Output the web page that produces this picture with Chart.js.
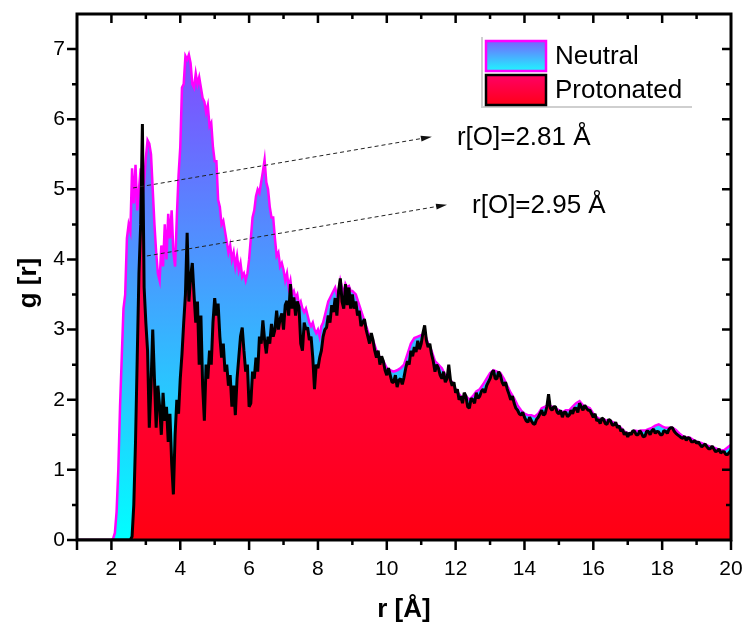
<!DOCTYPE html>
<html>
<head>
<meta charset="utf-8">
<title>g(r)</title>
<script src="https://cdn.jsdelivr.net/npm/chart.js@4.4.0/dist/chart.umd.min.js"></script>
<style>
  html, body { margin: 0; padding: 0; background: #fff; }
  #wrap { width: 743px; height: 625px; }
</style>
</head>
<body>
<div id="wrap"><canvas id="rdfChart" width="743" height="625"></canvas></div>
<script>
// r grid: fine step close in, coarser step further out for the neutral curve
const NEAR_START = 2.0, NEAR_STEP = 0.05;       // 2.00 .. 8.95
const FAR_START = 9.0;
const FAR_STEP_NEUTRAL = 0.1;                   // 9.0 .. 20.0
const FAR_STEP_PROTON = 0.05;                   // 9.00 .. 20.00

const gNeutralNear = [
    0, 0.02, 0.1, 0.4, 1.0, 1.9, 2.6, 3.3, 3.5, 4.3,
    4.5, 4.4, 5.3, 4.8, 5.35, 4.7, 5.0, 5.3, 4.9, 5.1,
    5.45, 5.7, 5.65, 5.5, 5.0, 4.5, 4.1, 3.8, 3.7, 4.2,
    3.9, 4.5, 4.0, 4.65, 4.3, 4.7, 4.1, 3.9, 4.6, 5.2,
    5.6, 6.45, 6.5, 6.9, 6.85, 6.92, 6.8, 6.5, 6.45, 6.65,
    6.5, 6.6, 6.45, 6.3, 6.25, 6.1, 6.2, 5.9, 5.95, 5.6,
    5.4, 5.4, 4.85, 4.75, 4.5, 4.55, 4.4, 4.25, 4.1, 4.2,
    4.0, 4.1, 3.9, 4.05, 3.85, 3.95, 3.75, 3.8, 3.7, 3.8,
    4.0, 4.3, 4.6, 4.7, 4.9, 5.0, 4.95, 5.1, 5.25, 5.42,
    5.1, 5.0, 4.75, 4.6, 4.6, 4.3, 4.05, 4.1, 3.9, 3.95,
    3.85, 3.7, 3.8, 3.6, 3.7, 3.5, 3.55, 3.45, 3.5, 3.35,
    3.4, 3.3, 3.25, 3.3, 3.2, 3.1, 3.05, 3.1, 3.0, 2.95,
    3.0, 2.9, 3.05, 3.1, 3.2, 3.3, 3.4, 3.45, 3.5, 3.55,
    3.6, 3.5, 3.55, 3.7, 3.6, 3.5, 3.65, 3.6, 3.62, 3.55
];

const gProtonNear = [
    0, 0, 0, 0, 0, 0, 0, 0, 0, 0,
    0, 0, 0.05, 0.5, 1.4, 2.6, 3.8, 4.5, 5.93, 3.6,
    3.1, 2.7, 1.6, 2.2, 3.0, 2.3, 1.6, 2.2, 1.9, 1.5,
    2.1, 1.7, 1.9, 1.4, 1.8, 1.1, 0.65, 1.5, 2.0, 1.8,
    2.3, 2.65, 3.1, 3.5, 4.38, 3.4, 3.75, 3.95, 3.5, 3.1,
    3.4, 2.5, 3.2, 2.2, 1.7, 2.5, 2.3, 2.7, 2.5, 3.1,
    3.45, 3.2, 3.37, 2.9, 2.6, 2.8, 2.4, 2.5, 2.2, 2.35,
    1.9, 2.2, 1.78, 2.3, 2.6, 2.9, 3.03, 2.7, 2.4, 2.5,
    1.9, 1.95, 2.4, 2.3, 2.6, 2.4, 2.9, 2.8, 3.13, 2.85,
    2.66, 2.9, 2.8, 3.08, 2.9, 3.0, 3.27, 3.0, 3.15, 3.23,
    3.0, 3.35, 3.41, 3.2, 3.65, 3.3, 3.46, 3.2, 3.4, 3.32,
    2.8, 2.7, 3.1, 3.0, 3.03, 2.85, 2.9, 2.6, 2.15, 2.5,
    2.45, 2.6, 2.7, 2.9, 3.0, 3.03, 3.2, 3.1, 3.35, 3.25,
    3.45, 3.2, 3.55, 3.73, 3.4, 3.3, 3.65, 3.35, 3.6, 3.3
];

const gNeutralFar = [
    3.55, 3.5, 3.35, 3.2, 3.05, 2.9, 2.85, 2.7, 2.6, 2.55,
    2.45, 2.42, 2.4, 2.42, 2.45, 2.5, 2.65, 2.8, 2.88, 2.9,
    2.92, 2.95, 2.8, 2.7, 2.55, 2.5, 2.45, 2.35, 2.3, 2.25,
    2.15, 2.08, 2.02, 2.05, 2.0, 2.05, 2.12, 2.15, 2.22, 2.3,
    2.38, 2.42, 2.4, 2.38, 2.3, 2.2, 2.1, 2.02, 1.92, 1.85,
    1.8, 1.78, 1.78, 1.76, 1.8, 1.88, 1.9, 1.92, 1.9, 1.88,
    1.85, 1.82, 1.85, 1.85, 1.9, 1.95, 1.98, 1.92, 1.9, 1.88,
    1.8, 1.75, 1.72, 1.72, 1.7, 1.7, 1.67, 1.64, 1.6, 1.55,
    1.52, 1.53, 1.56, 1.55, 1.56, 1.56, 1.58, 1.6, 1.63, 1.65,
    1.62, 1.6, 1.6, 1.6, 1.57, 1.52, 1.48, 1.46, 1.46, 1.43,
    1.4, 1.39, 1.37, 1.35, 1.33, 1.32, 1.3, 1.28, 1.28, 1.32,
    1.36
];

const gProtonFar = [
    3.5, 3.3, 3.4, 3.2, 3.27, 3.05, 3.1, 3.15, 3.0, 2.9, 2.8, 2.95, 2.85, 2.7, 2.6, 2.7, 2.5, 2.62, 2.55, 2.42,
    2.35, 2.45, 2.35, 2.25, 2.25, 2.35, 2.18, 2.28, 2.3, 2.22, 2.32, 2.45, 2.55, 2.5, 2.7, 2.62, 2.75, 2.68, 2.84, 2.72,
    2.8, 2.95, 3.06, 2.85, 2.75, 2.8, 2.65, 2.55, 2.4, 2.5, 2.45, 2.35, 2.3, 2.4, 2.25, 2.3, 2.5, 2.28, 2.2, 2.25,
    2.1, 2.15, 2.0, 2.05, 1.95, 2.1, 2.05, 1.9, 1.88, 2.02, 2.0, 1.95, 2.1, 2.02, 2.05, 2.12, 2.15, 2.1, 2.2, 2.25,
    2.3, 2.38, 2.42, 2.3, 2.3, 2.4, 2.35, 2.25, 2.2, 2.25, 2.15, 2.08, 2.0, 2.05, 1.95, 1.88, 1.85, 1.8, 1.78, 1.82,
    1.75, 1.7, 1.68, 1.75, 1.7, 1.66, 1.65, 1.72, 1.75, 1.8, 1.85, 1.78, 1.8, 1.9, 2.08, 1.88, 1.85, 1.9, 1.9, 1.82,
    1.8, 1.85, 1.75, 1.82, 1.82, 1.76, 1.78, 1.85, 1.8, 1.88, 1.88, 1.82, 1.95, 1.9, 1.85, 1.92, 1.88, 1.85, 1.85, 1.8,
    1.75, 1.8, 1.7, 1.72, 1.66, 1.74, 1.72, 1.66, 1.65, 1.72, 1.7, 1.64, 1.64, 1.68, 1.6, 1.63, 1.55, 1.58, 1.5, 1.54,
    1.47, 1.53, 1.5, 1.56, 1.55, 1.5, 1.5, 1.56, 1.52, 1.47, 1.48, 1.55, 1.55, 1.5, 1.56, 1.58, 1.52, 1.55, 1.54, 1.5,
    1.5, 1.56, 1.55, 1.52, 1.58, 1.6, 1.6, 1.55, 1.52, 1.5, 1.48, 1.46, 1.45, 1.48, 1.42, 1.46, 1.45, 1.4, 1.4, 1.42,
    1.38, 1.4, 1.36, 1.33, 1.35, 1.37, 1.33, 1.3, 1.3, 1.34, 1.3, 1.26, 1.27, 1.3, 1.24, 1.26, 1.26, 1.22, 1.22, 1.25,
    1.28
];

const xTickValues = [2, 4, 6, 8, 10, 12, 14, 16, 18, 20];
const yTickValues = [0, 1, 2, 3, 4, 5, 6, 7];
const seriesNames = ["Neutral", "Protonated"];

// arrows: [r0, g0, r1, g1] and their labels
const arrowLines = [[2.63, 5.02, 11.31, 5.75], [3.03, 4.05, 11.75, 4.78]];
const arrowLabels = ["r[O]=2.81 Å", "r[O]=2.95 Å"];

const FONT = "'Liberation Sans', Arial, sans-serif";
const X_MIN = 1, X_MAX = 20, Y_MAX = 7.5;

function toPoints(start, step, values) {
    return values.map((g, i) => ({ x: +(start + i * step).toFixed(2), y: g }));
}

const neutralPoints = [{ x: X_MIN, y: 0 }]
    .concat(toPoints(NEAR_START, NEAR_STEP, gNeutralNear), toPoints(FAR_START, FAR_STEP_NEUTRAL, gNeutralFar));
const protonPoints = [{ x: X_MIN, y: 0 }]
    .concat(toPoints(NEAR_START, NEAR_STEP, gProtonNear), toPoints(FAR_START, FAR_STEP_PROTON, gProtonFar));

function areaGradient(chart, bottom, top) {
    const y = chart.scales.y;
    const grad = chart.ctx.createLinearGradient(0, y.getPixelForValue(0), 0, y.getPixelForValue(Y_MAX));
    grad.addColorStop(0, bottom);
    grad.addColorStop(1, top);
    return grad;
}

// scales must not reserve extra room for their labels
function fixBox(s, key, size) {
    s[key] = size;
    s.paddingLeft = s.paddingRight = s.paddingTop = s.paddingBottom = 0;
}

const decorations = {
    id: "decorations",
    afterDraw(chart) {
        const ctx = chart.ctx;
        const a = chart.chartArea;
        const xs = chart.scales.x, ys = chart.scales.y;
        ctx.save();

        // ticks: major outside bottom/left, inside top/right
        ctx.strokeStyle = "#000";
        ctx.lineWidth = 2.5;
        ctx.beginPath();
        for (let r = 2; r <= 19; r++) {
            const px = xs.getPixelForValue(r);
            const len = r % 2 === 0 ? 10 : 5;
            ctx.moveTo(px, a.bottom); ctx.lineTo(px, a.bottom + len);
            ctx.moveTo(px, a.top); ctx.lineTo(px, a.top + (r % 2 === 0 ? 9 : 5));
        }
        for (let g = 0; g <= 7; g += 0.5) {
            const py = ys.getPixelForValue(g);
            const major = Number.isInteger(g);
            ctx.moveTo(a.left, py); ctx.lineTo(a.left - (major ? 10 : 5), py);
            if (g > 0) { ctx.moveTo(a.right, py); ctx.lineTo(a.right - (major ? 9 : 5), py); }
        }
        ctx.moveTo(a.left, a.bottom); ctx.lineTo(a.left, a.bottom + 10);
        ctx.moveTo(a.right, a.bottom); ctx.lineTo(a.right, a.bottom + 10);
        ctx.stroke();

        // frame
        ctx.lineWidth = 3;
        ctx.strokeRect(a.left, a.top, a.right - a.left, a.bottom - a.top);

        // dashed arrows
        arrowLines.forEach((ln, i) => {
            const x0 = xs.getPixelForValue(ln[0]), y0 = ys.getPixelForValue(ln[1]);
            const x1 = xs.getPixelForValue(ln[2]), y1 = ys.getPixelForValue(ln[3]);
            const ang = Math.atan2(y1 - y0, x1 - x0);
            ctx.strokeStyle = "#222";
            ctx.lineWidth = 1;
            ctx.setLineDash([4, 3]);
            ctx.beginPath();
            ctx.moveTo(x0, y0);
            ctx.lineTo(x1 - 8 * Math.cos(ang), y1 - 8 * Math.sin(ang));
            ctx.stroke();
            ctx.setLineDash([]);
            ctx.fillStyle = "#111";
            ctx.beginPath();
            ctx.moveTo(x1, y1);
            ctx.lineTo(x1 - 11 * Math.cos(ang) + 3 * Math.sin(ang), y1 - 11 * Math.sin(ang) - 3 * Math.cos(ang));
            ctx.lineTo(x1 - 11 * Math.cos(ang) - 3 * Math.sin(ang), y1 - 11 * Math.sin(ang) + 3 * Math.cos(ang));
            ctx.closePath();
            ctx.fill();

            ctx.fillStyle = "#000";
            ctx.font = "26px " + FONT;
            ctx.textAlign = "left";
            ctx.textBaseline = "middle";
            ctx.fillText(arrowLabels[i], x1 + 25, y1 + 1);
        });

        // legend
        ctx.strokeStyle = "#cfcfcf";
        ctx.lineWidth = 2;
        ctx.beginPath();
        ctx.moveTo(482, 37); ctx.lineTo(482, 107); ctx.lineTo(692, 107);
        ctx.stroke();
        const swatches = [
            { y: 40, bottom: "#1ef6ff", top: "#7a5cff", edge: "#ff00ff" },
            { y: 74, bottom: "#ff0018", top: "#ff0068", edge: "#000" }
        ];
        swatches.forEach((s, i) => {
            const g = ctx.createLinearGradient(0, s.y + 31, 0, s.y);
            g.addColorStop(0, s.bottom);
            g.addColorStop(1, s.top);
            ctx.fillStyle = g;
            ctx.fillRect(486, s.y + 1, 60, 30);
            ctx.strokeStyle = s.edge;
            ctx.lineWidth = 2.5;
            ctx.strokeRect(486, s.y + 1, 60, 30);
            ctx.fillStyle = "#000";
            ctx.font = "26px " + FONT;
            ctx.textAlign = "left";
            ctx.textBaseline = "middle";
            ctx.fillText(seriesNames[i], 555, s.y + 17);
        });

        // axis titles
        ctx.fillStyle = "#000";
        ctx.font = "bold 26px " + FONT;
        ctx.textAlign = "center";
        ctx.textBaseline = "alphabetic";
        ctx.fillText("r [Å]", 404, 617);
        ctx.translate(36, 283);
        ctx.rotate(-Math.PI / 2);
        ctx.fillText("g [r]", 0, 0);
        ctx.restore();
    }
};

new Chart(document.getElementById("rdfChart"), {
    type: "line",
    data: {
        datasets: [
            {
                label: seriesNames[0],
                data: neutralPoints,
                order: 2,
                borderColor: "#ff00ff",
                borderWidth: 2.5,
                pointRadius: 0,
                tension: 0,
                fill: "origin",
                backgroundColor: c => c.chart.chartArea
                    ? areaGradient(c.chart, "rgb(0,255,255)", "rgb(141,59,255)") : "#40c0ff"
            },
            {
                label: seriesNames[1],
                data: protonPoints,
                order: 1,
                borderColor: "#000",
                borderWidth: 3,
                borderJoinStyle: "bevel",
                pointRadius: 0,
                tension: 0,
                fill: "origin",
                backgroundColor: c => c.chart.chartArea
                    ? areaGradient(c.chart, "rgb(255,0,18)", "rgb(255,0,140)") : "#ff0040"
            }
        ]
    },
    options: {
        responsive: false,
        animation: false,
        events: [],
        layout: { padding: { top: 14, right: 12, left: 0, bottom: 0 } },
        plugins: {
            legend: { display: false },
            tooltip: { enabled: false }
        },
        scales: {
            x: {
                type: "linear",
                min: X_MIN,
                max: X_MAX,
                grid: { display: false, drawTicks: false },
                border: { display: false },
                ticks: { font: { family: FONT, size: 21 }, color: "#000", padding: 17, maxRotation: 0 },
                afterBuildTicks: s => { s.ticks = xTickValues.map(v => ({ value: v })); },
                afterFit: s => fixBox(s, "height", 85)
            },
            y: {
                type: "linear",
                min: 0,
                max: Y_MAX,
                grid: { display: false, drawTicks: false },
                border: { display: false },
                ticks: { font: { family: FONT, size: 21 }, color: "#000", padding: 12 },
                afterBuildTicks: s => { s.ticks = yTickValues.map(v => ({ value: v })); },
                afterFit: s => fixBox(s, "width", 77)
            }
        }
    },
    plugins: [decorations]
});
</script>
</body>
</html>
